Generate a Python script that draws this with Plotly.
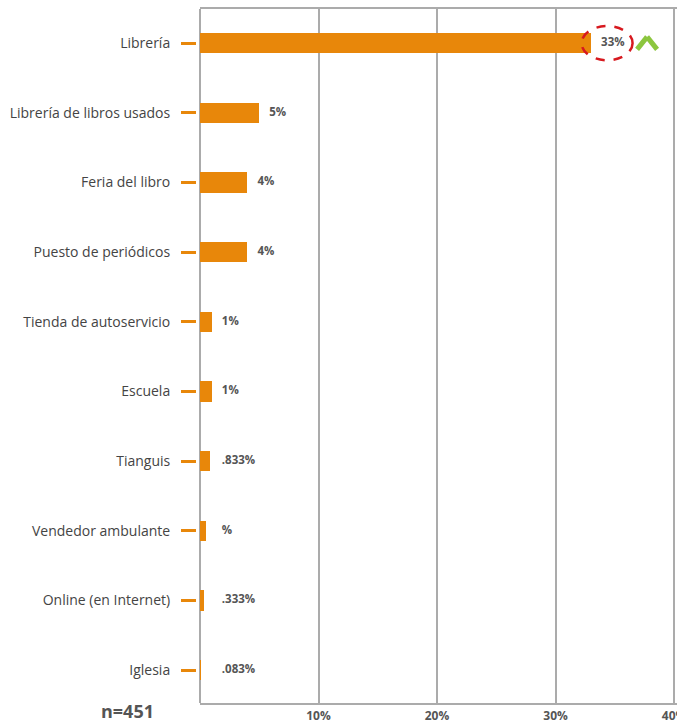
import plotly.graph_objects as go

# Lugares de compra de libros (porcentaje de menciones)
categorias = [
    "Librería",
    "Librería de libros usados",
    "Feria del libro",
    "Puesto de periódicos",
    "Tienda de autoservicio",
    "Escuela",
    "Tianguis",
    "Vendedor ambulante",
    "Online (en Internet)",
    "Iglesia",
]
valores = [33, 5, 4, 4, 1, 1, 0.833, 0.5, 0.333, 0.083]
etiquetas = ["33%", "5%", "4%", "4%", "1%", "1%", ".833%", "%", ".333%", ".083%"]
ticks_x = [10, 20, 30, 40]
ticks_x_texto = ["10%", "20%", "30%", "40%"]
muestra = "n=451"

NARANJA = "#E8870A"
GRIS = "#ABABAB"
TEXTO = "#555555"

W, H = 677, 720
ML, MR, MT, MB = 180, 0, 9, 17
X0 = 200  # borde izquierdo del área de barras, en px
ancho_paper = W - ML - MR
dom_x0 = (X0 - ML) / ancho_paper
x_max = 40.25
px_por_pct = (W - X0 - MR) / x_max

pos = list(range(len(categorias)))

fig = go.Figure()

fig.add_trace(go.Bar(
    x=valores, y=pos, orientation="h",
    marker=dict(color=NARANJA, line=dict(width=0)),
    width=0.29, hoverinfo="skip",
))

# etiquetas de valor a ~10 px del extremo de la barra (mínimo en 1%)
x_texto = [max(v, 1) + 10 / px_por_pct for v in valores]
fig.add_trace(go.Scatter(
    x=x_texto, y=pos, mode="text", text=etiquetas,
    textposition="middle right",
    textfont=dict(family="Open Sans", size=11.5, color=TEXTO, weight="bold"),
    hoverinfo="skip", cliponaxis=False,
))

# elipse punteada alrededor de la etiqueta principal
cx = valores[0] + 16 / px_por_pct
fig.add_shape(
    type="circle", xref="x", yref="y",
    x0=cx - 25.5 / px_por_pct, x1=cx + 25.5 / px_por_pct,
    y0=-0.245, y1=0.245,
    line=dict(color="#D7191F", width=2.5, dash="dash"),
)

# indicador de tendencia (flecha verde)
ax = valores[0] + 56 / px_por_pct
half = 10 / px_por_pct
for xa in (ax - half, ax + half):
    fig.add_shape(
        type="line", xref="x", yref="y",
        x0=xa, y0=0.09, x1=ax, y1=-0.09,
        line=dict(color="#8CC63F", width=5),
    )

fig.add_annotation(
    text=muestra, xref="paper", yref="paper",
    x=(127 - ML) / ancho_paper, y=-(711 - (H - MB)) / (H - MT - MB),
    xanchor="center", yanchor="middle", showarrow=False,
    font=dict(family="Open Sans", size=18, color=TEXTO, weight="bold"),
)

fig.update_layout(
    width=W, height=H,
    margin=dict(l=ML, r=MR, t=MT, b=MB, pad=0, autoexpand=False),
    paper_bgcolor="white", plot_bgcolor="white",
    showlegend=False,
    bargap=0,
    xaxis=dict(
        domain=[dom_x0, 1], automargin=False,
        range=[0, x_max], tickvals=ticks_x, ticktext=ticks_x_texto,
        showgrid=True, gridcolor=GRIS, gridwidth=1.5,
        zeroline=True, zerolinecolor=GRIS, zerolinewidth=2,
        showline=True, linecolor=GRIS, linewidth=2, mirror=True,
        ticks="", fixedrange=True, ticklabeloverflow="allow",
        ticklabelstandoff=1,
        tickfont=dict(family="Open Sans", size=12, color=TEXTO, weight="bold"),
    ),
    yaxis=dict(
        range=[len(categorias) - 0.53, -0.49], automargin=False,
        tickvals=pos, ticktext=categorias,
        anchor="free", position=(X0 - 4 - ML) / ancho_paper,
        showline=False, showgrid=False, zeroline=False,
        ticks="outside", ticklen=15, tickwidth=2.5, tickcolor=NARANJA,
        ticklabelstandoff=8,
        tickfont=dict(family="Open Sans", size=14, color="#444444"),
    ),
)

fig.write_html("out.html")
